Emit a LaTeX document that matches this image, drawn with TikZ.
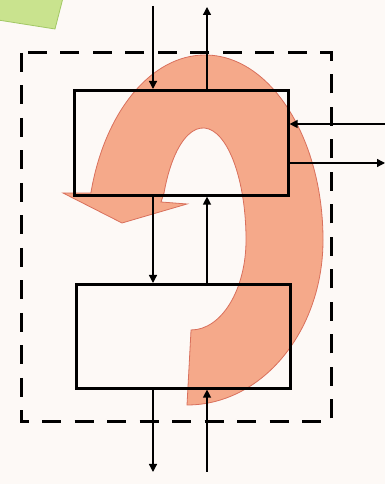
\documentclass[tikz,border=0pt]{standalone}
\usetikzlibrary{arrows.meta}
\definecolor{bgc}{HTML}{FDF9F6}
\definecolor{orfill}{HTML}{F5A98A}
\definecolor{oredge}{HTML}{D9705C}
\definecolor{grfill}{HTML}{C9E38E}
\definecolor{gredge}{HTML}{A2C865}
\tikzset{
  flow/.style={line width=1.3pt,-{Triangle[length=8pt,width=8pt]}},
  unitbox/.style={draw,line width=2.6pt},
  bound/.style={line width=3pt,dash pattern=on 19pt off 13.5pt},
}
\begin{document}
\begin{tikzpicture}[x=1pt,y=1pt]
\useasboundingbox[fill=bgc] (0,0) rectangle (385,484);
% green sticky note corner
\fill[grfill,draw=gredge,line width=0.8pt] (-2,490) -- (-2,464) -- (55,455) -- (64,490) -- cycle;
% orange U-turn arrow
\filldraw[fill=orfill,draw=oredge,line width=0.8pt]
  (187,79) arc[start angle=-90,end angle=0,x radius=136,y radius=165]
  arc[start angle=0,end angle=165.3,x radius=118,y radius=185]
  -- (63,291) -- (122,261) -- (187,280) -- (161,282) -- (164,291)
  arc[start angle=155.2,end angle=0,x radius=43,y radius=112]
  arc[start angle=0,end angle=-90,x radius=55,y radius=90]
  -- cycle;
% dashed boundary
\draw[bound] (21,431) rectangle (331,62);
% units
\node[unitbox,minimum width=214pt,minimum height=105pt,inner sep=0pt,anchor=north west] (top) at (73,395) {};
\node[unitbox,minimum width=214pt,minimum height=104pt,inner sep=0pt,anchor=north west] (bot) at (75,201) {};
% coordinates for free ends
\coordinate (inA) at (153,478);
\coordinate (outA) at (207,477);
\coordinate (inR) at (386,360);
\coordinate (outR) at (385,321);
\coordinate (outB) at (153,12);
\coordinate (inB) at (207,12);
% connectors
\draw[flow] (inA) -- (inA |- top.north);
\draw[flow] (outA |- top.north) -- (outA);
\draw[flow] (inR) -- (inR -| top.east);
\draw[flow] (outR -| top.east) -- (outR);
\draw[flow] (153,0 |- top.south) -- (153,0 |- bot.north);
\draw[flow] (207,0 |- bot.north) -- (207,0 |- top.south);
\draw[flow] (153,0 |- bot.south) -- (outB);
\draw[flow] (inB) -- (207,0 |- bot.south);
\end{tikzpicture}
\end{document}
